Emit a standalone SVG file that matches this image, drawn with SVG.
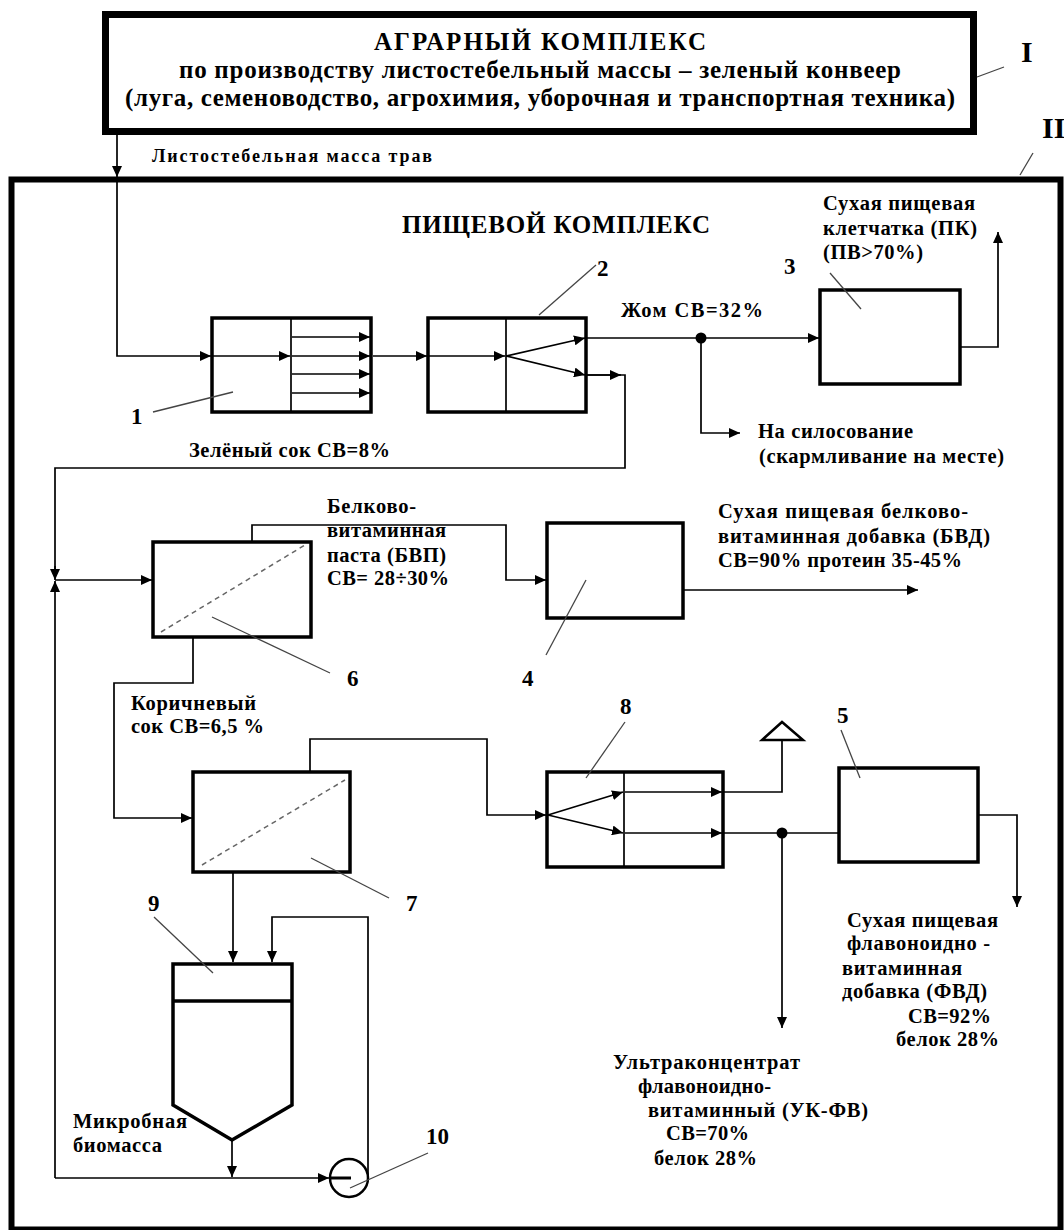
<svg xmlns="http://www.w3.org/2000/svg" width="1064" height="1230" viewBox="0 0 1064 1230">
<defs>
<marker id="arr" markerUnits="userSpaceOnUse" markerWidth="12" markerHeight="10" refX="11" refY="5" orient="auto">
<path d="M0,0 L11,5 L0,10 z" fill="#000"/>
</marker>
<style>
.blk{fill:#fff;stroke:#000;stroke-width:3.5}
.thk{fill:none;stroke:#000;stroke-width:7}
.ln{fill:none;stroke:#000;stroke-width:1.7}
.div{fill:none;stroke:#000;stroke-width:1.7}
.dash{fill:none;stroke:#666;stroke-width:1.5;stroke-dasharray:5 4}
.lead{fill:none;stroke:#444;stroke-width:1.3}
.a{marker-end:url(#arr)}
text{font-family:"Liberation Serif","Times New Roman",serif;font-weight:bold;fill:#000}
.h{font-size:25px}
.t{font-size:20.5px}
.s{font-size:18px}
.n{font-size:23px}
.r{font-size:30px}
</style>
</defs>
<rect width="1064" height="1230" fill="#fff"/>

<g id="agro">
<rect class="thk" x="105.5" y="14.5" width="868" height="117"/>
<text class="h" x="540" y="50" text-anchor="middle" textLength="332" lengthAdjust="spacing">АГРАРНЫЙ КОМПЛЕКС</text>
<text class="h" x="540" y="78" text-anchor="middle" textLength="722" lengthAdjust="spacing">по производству листостебельный массы – зеленый конвеер</text>
<text class="h" x="540" y="106" text-anchor="middle" textLength="830" lengthAdjust="spacing">(луга, семеноводство, агрохимия, уборочная и транспортная техника)</text>
</g>
<g id="label-I">
<line class="lead" x1="977" y1="77" x2="1004" y2="67"/>
<text class="r" x="1021" y="62">I</text>
</g>
<g id="label-II">
<line class="lead" x1="1033" y1="153" x2="1020" y2="175"/>
<text class="r" x="1042" y="138">II</text>
</g>

<g id="food">
<rect x="11.5" y="179.5" width="1049" height="1050" fill="none" stroke="#000" stroke-width="6"/>
<text x="402" y="233" style="font-size:25px" textLength="308" lengthAdjust="spacing">ПИЩЕВОЙ КОМПЛЕКС</text>
</g>

<g id="n1">
<rect class="blk" x="212" y="318" width="159" height="94"/>
<line class="div" x1="291" y1="318" x2="291" y2="412"/>
<line class="lead" x1="153" y1="412" x2="233" y2="392"/>
<text class="n" x="131" y="424">1</text>
</g>
<g id="n2">
<rect class="blk" x="428" y="318" width="158" height="94"/>
<line class="div" x1="506" y1="318" x2="506" y2="412"/>
<line class="lead" x1="539" y1="315" x2="596" y2="265"/>
<text class="n" x="597" y="276">2</text>
</g>
<g id="n3">
<rect class="blk" x="820" y="290" width="140" height="94"/>
<line class="lead" x1="830" y1="273" x2="861" y2="309"/>
<text class="n" x="784" y="274">3</text>
</g>
<g id="n4">
<rect class="blk" x="547" y="523" width="136" height="95"/>
<line class="lead" x1="546" y1="655" x2="586" y2="580"/>
<text class="n" x="522" y="686">4</text>
</g>
<g id="n5">
<rect class="blk" x="839" y="768" width="139" height="94"/>
<line class="lead" x1="841" y1="730" x2="860" y2="778"/>
<text class="n" x="837" y="723">5</text>
</g>
<g id="n6">
<rect class="blk" x="153" y="542" width="158" height="95"/>
<line class="dash" x1="161" y1="632" x2="305" y2="545"/>
<line class="lead" x1="212" y1="617" x2="330" y2="673"/>
<text class="n" x="347" y="686">6</text>
</g>
<g id="n7">
<rect class="blk" x="193" y="772" width="157" height="100"/>
<line class="dash" x1="202" y1="865" x2="345" y2="780"/>
<line class="lead" x1="311" y1="858" x2="389" y2="898"/>
<text class="n" x="406" y="911">7</text>
</g>
<g id="n8">
<rect class="blk" x="547" y="772" width="176" height="95"/>
<line class="div" x1="624" y1="772" x2="624" y2="867"/>
<line class="lead" x1="625" y1="722" x2="586" y2="778"/>
<text class="n" x="620" y="714">8</text>
</g>
<g id="n9">
<path class="blk" d="M173,964 H292 V1105 L232,1140 L173,1105 Z"/>
<line x1="173" y1="1001" x2="292" y2="1001" stroke="#000" stroke-width="3.5"/>
<line class="lead" x1="154" y1="917" x2="213" y2="973"/>
<text class="n" x="148" y="911">9</text>
</g>
<g id="n10">
<circle cx="349" cy="1178" r="19" fill="#fff" stroke="#000" stroke-width="2.5"/>
<line x1="330" y1="1178" x2="351" y2="1178" stroke="#000" stroke-width="3"/>
<line class="lead" x1="350" y1="1188" x2="428" y2="1153"/>
<text class="n" x="426" y="1144">10</text>
</g>
<g id="sink">
<polygon points="762,740 803,740 782,722" fill="#fff" stroke="#000" stroke-width="2.5"/>
</g>

<g id="connectors">
<path class="ln a" d="M117,135 V177"/>
<path class="ln a" d="M117,182 V356 H211"/>
<path class="ln a" d="M213,356 H290"/>
<path class="ln a" d="M292,337 H370"/>
<path class="ln a" d="M292,356 H370"/>
<path class="ln a" d="M292,374 H370"/>
<path class="ln a" d="M292,393 H370"/>
<path class="ln a" d="M373,356 H427"/>
<path class="ln a" d="M429,356 H505"/>
<path class="ln a" d="M506,356 L585,338"/>
<path class="ln a" d="M506,356 L585,375"/>
<path class="ln a" d="M587,338 H819"/>
<circle cx="701" cy="338" r="5.5" fill="#000"/>
<path class="ln a" d="M701,338 V433 H740"/>
<path class="ln a" d="M961,347 H998 V232"/>
<path class="ln" d="M587,375 H625 V468 H55 V574"/>
<path class="ln a" d="M587,375 H621"/>
<path class="ln a" d="M55,566 V580"/>
<path class="ln a" d="M55,1178 V581"/>
<path class="ln a" d="M55,580 H152"/>
<path class="ln a" d="M252,542 V525 H506 V580 H546"/>
<path class="ln a" d="M193,637 V683 H114 V818 H192"/>
<path class="ln a" d="M684,590 H918"/>
<path class="ln a" d="M310,772 V739 H487 V815 H546"/>
<path class="ln a" d="M548,815 L623,792"/>
<path class="ln a" d="M548,815 L623,833"/>
<path class="ln a" d="M625,792 H722"/>
<path class="ln a" d="M625,833 H722"/>
<path class="ln" d="M724,792 H782 V740"/>
<path class="ln" d="M724,833 H840"/>
<circle cx="782" cy="833" r="5.5" fill="#000"/>
<path class="ln a" d="M782,833 V1028"/>
<path class="ln a" d="M979,815 H1017 V907"/>
<path class="ln a" d="M233,872 V962"/>
<path class="ln a" d="M368,1178 V917 H272 V962"/>
<path class="ln a" d="M232,1140 V1177"/>
<path class="ln a" d="M55,1178 H329"/>
</g>

<g id="labels">
<text class="s" x="152" y="162" textLength="280" lengthAdjust="spacing">Листостебельная масса трав</text>
<text class="t" x="621" y="317" textLength="142" lengthAdjust="spacing">Жом  СВ=32%</text>
<text class="t" x="823" y="210" textLength="152" lengthAdjust="spacing">Сухая пищевая</text>
<text class="t" x="823" y="235" textLength="154" lengthAdjust="spacing">клетчатка (ПК)</text>
<text class="t" x="823" y="259" textLength="100" lengthAdjust="spacing">(ПВ&gt;70%)</text>
<text class="t" x="758" y="438" textLength="155" lengthAdjust="spacing">На силосование</text>
<text class="t" x="759" y="463" textLength="245" lengthAdjust="spacing">(скармливание на месте)</text>
<text class="t" x="189" y="457" textLength="201" lengthAdjust="spacing">Зелёный сок СВ=8%</text>
<text class="t" x="327" y="513" textLength="89" lengthAdjust="spacing">Белково-</text>
<text class="t" x="327" y="537" textLength="119" lengthAdjust="spacing">витаминная</text>
<text class="t" x="327" y="562" textLength="119" lengthAdjust="spacing">паста (БВП)</text>
<text class="t" x="327" y="585" textLength="122" lengthAdjust="spacing">СВ= 28÷30%</text>
<text class="t" x="718" y="518" textLength="250" lengthAdjust="spacing">Сухая пищевая белково-</text>
<text class="t" x="718" y="543" textLength="272" lengthAdjust="spacing">витаминная добавка  (БВД)</text>
<text class="t" x="718" y="567" textLength="244" lengthAdjust="spacing">СВ=90% протеин 35-45%</text>
<text class="t" x="131" y="710" textLength="125" lengthAdjust="spacing">Коричневый</text>
<text class="t" x="131" y="733" textLength="133" lengthAdjust="spacing">сок СВ=6,5 %</text>
<text class="t" x="73" y="1128" textLength="114" lengthAdjust="spacing">Микробная</text>
<text class="t" x="73" y="1152" textLength="89" lengthAdjust="spacing">биомасса</text>
<text class="t" x="847" y="927" textLength="151" lengthAdjust="spacing">Сухая пищевая</text>
<text class="t" x="847" y="950" textLength="143" lengthAdjust="spacing">флавоноидно -</text>
<text class="t" x="842" y="975" textLength="120" lengthAdjust="spacing">витаминная</text>
<text class="t" x="842" y="998" textLength="145" lengthAdjust="spacing">добавка (ФВД)</text>
<text class="t" x="908" y="1023" textLength="83" lengthAdjust="spacing">СВ=92%</text>
<text class="t" x="896" y="1046" textLength="103" lengthAdjust="spacing">белок 28%</text>
<text class="t" x="613" y="1069" textLength="187" lengthAdjust="spacing">Ультраконцентрат</text>
<text class="t" x="638" y="1093" textLength="133" lengthAdjust="spacing">флавоноидно-</text>
<text class="t" x="648" y="1117" textLength="220" lengthAdjust="spacing">витаминный (УК-ФВ)</text>
<text class="t" x="666" y="1140" textLength="83" lengthAdjust="spacing">СВ=70%</text>
<text class="t" x="654" y="1165" textLength="103" lengthAdjust="spacing">белок 28%</text>
</g>
</svg>
